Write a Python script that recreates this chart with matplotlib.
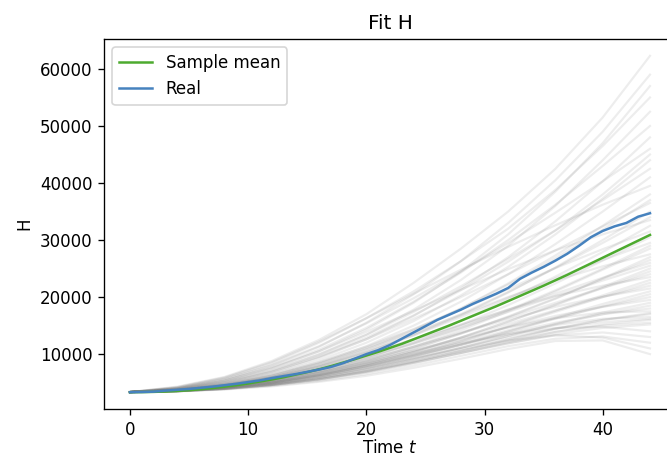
import numpy as np
import matplotlib
matplotlib.use("Agg")
import matplotlib.pyplot as plt

# Time axis for the observed / mean series
t_days = list(range(0, 45))

# Real series
real_vals = [3330, 3360, 3420, 3600, 3750, 3900, 4100, 4300, 4550, 4800,
             5100, 5400, 5800, 6150, 6500, 6900, 7300, 7750, 8400, 9200,
             10000, 10700, 11600, 12700, 13800, 14900, 16000, 16900, 17800, 18800,
             19700, 20600, 21600, 23200, 24300, 25300, 26400, 27600, 29000, 30500,
             31600, 32400, 33000, 34100, 34700]

# Sample mean series
mean_vals = [3330, 3340, 3380, 3450, 3550, 3680, 3850, 4050, 4300, 4550,
             4850, 5200, 5550, 5950, 6400, 6850, 7350, 7900, 8500, 9100,
             9750, 10400, 11100, 11800, 12600, 13400, 14200, 15000, 15850, 16700,
             17550, 18400, 19300, 20200, 21100, 22000, 22950, 23900, 24900, 25900,
             26900, 27900, 28900, 29900, 30900]

# Sample trajectories (thousands), sampled at these times
sample_t = [0, 4, 8, 12, 16, 20, 24, 28, 32, 36, 40, 44]
samples_k = [
    [3.35, 4.3, 6.0, 8.8, 12.5, 17.0, 22.5, 28.5, 35.0, 42.5, 51.5, 62.3],
    [3.35, 4.1, 5.6, 8.0, 11.3, 15.5, 20.5, 26.3, 33.0, 40.5, 49.0, 59.0],
    [3.35, 4.0, 5.3, 7.5, 10.5, 14.3, 19.0, 24.5, 31.0, 38.5, 47.0, 57.0],
    [3.35, 4.2, 5.8, 8.4, 12.0, 16.3, 21.0, 26.3, 32.0, 38.8, 46.5, 55.0],
    [3.35, 3.9, 5.1, 7.1, 9.9, 13.4, 17.8, 23.0, 29.0, 36.0, 44.0, 52.5],
    [3.35, 4.0, 5.4, 7.7, 10.8, 14.6, 19.2, 24.3, 30.0, 36.2, 43.0, 50.0],
    [3.35, 3.85, 4.9, 6.7, 9.3, 12.6, 16.7, 21.5, 27.0, 33.3, 40.3, 48.0],
    [3.35, 4.1, 5.6, 8.1, 11.4, 15.4, 19.8, 24.5, 29.5, 34.8, 40.3, 46.0],
    [3.35, 3.9, 5.05, 6.9, 9.6, 12.9, 16.8, 21.2, 26.2, 31.7, 38.0, 45.0],
    [3.35, 3.8, 4.8, 6.5, 8.9, 12.0, 15.8, 20.3, 25.3, 31.0, 37.3, 44.0],
    [3.35, 3.95, 5.2, 7.2, 10.0, 13.4, 17.4, 21.9, 26.7, 31.7, 37.0, 42.5],
    [3.35, 3.75, 4.65, 6.2, 8.5, 11.4, 15.0, 19.2, 24.0, 29.3, 35.0, 41.0],
    [3.35, 4.2, 5.9, 8.6, 12.2, 16.3, 20.6, 24.8, 28.8, 32.6, 36.2, 39.5],
    [3.35, 3.7, 4.6, 6.0, 8.1, 10.8, 14.1, 18.0, 22.4, 27.3, 32.5, 38.0],
    [3.35, 3.75, 4.7, 6.25, 8.4, 11.1, 14.3, 18.0, 22.2, 26.8, 31.8, 37.0],
    [3.35, 3.9, 5.0, 6.9, 9.5, 12.6, 16.2, 20.0, 24.0, 28.2, 32.4, 36.5],
    [3.35, 3.7, 4.5, 5.9, 7.8, 10.3, 13.3, 16.8, 20.8, 25.2, 30.0, 35.0],
    [3.35, 3.7, 4.55, 6.0, 8.0, 10.5, 13.5, 17.0, 20.9, 25.1, 29.5, 34.0],
    [3.35, 4.0, 5.4, 7.6, 10.5, 13.9, 17.6, 21.3, 24.9, 28.2, 31.0, 33.5],
    [3.35, 3.65, 4.4, 5.7, 7.5, 9.8, 12.6, 15.9, 19.6, 23.6, 27.9, 32.5],
    [3.35, 3.8, 4.8, 6.4, 8.6, 11.3, 14.4, 17.8, 21.4, 25.1, 28.4, 31.5],
    [3.35, 3.6, 4.3, 5.5, 7.2, 9.4, 12.0, 15.1, 18.6, 22.4, 26.4, 30.5],
    [3.35, 3.7, 4.5, 5.9, 7.9, 10.4, 13.3, 16.5, 19.9, 23.3, 26.5, 29.5],
    [3.35, 3.65, 4.35, 5.55, 7.2, 9.3, 11.8, 14.6, 17.7, 21.2, 25.0, 29.0],
    [3.35, 3.6, 4.25, 5.35, 6.9, 8.9, 11.3, 14.2, 17.5, 21.0, 24.8, 28.5],
    [3.35, 3.75, 4.7, 6.2, 8.3, 10.9, 13.8, 16.9, 20.0, 22.9, 25.4, 27.5],
    [3.35, 3.6, 4.25, 5.3, 6.8, 8.7, 11.0, 13.6, 16.5, 19.7, 23.3, 27.0],
    [3.35, 3.6, 4.2, 5.2, 6.7, 8.6, 10.9, 13.6, 16.6, 19.8, 23.2, 26.5],
    [3.35, 3.7, 4.5, 5.8, 7.6, 9.8, 12.3, 15.0, 17.8, 20.6, 23.4, 26.0],
    [3.35, 3.65, 4.4, 5.6, 7.3, 9.4, 11.9, 14.6, 17.4, 20.2, 22.9, 25.5],
    [3.35, 3.55, 4.1, 5.05, 6.4, 8.2, 10.4, 12.9, 15.7, 18.7, 21.8, 25.0],
    [3.35, 3.55, 4.1, 5.0, 6.4, 8.2, 10.4, 12.9, 15.7, 18.6, 21.6, 24.5],
    [3.35, 3.6, 4.3, 5.4, 7.0, 9.0, 11.3, 13.8, 16.4, 19.0, 21.6, 24.0],
    [3.35, 3.7, 4.5, 5.9, 7.8, 10.1, 12.6, 15.2, 17.8, 20.2, 22.0, 23.5],
    [3.35, 3.55, 4.1, 5.0, 6.3, 8.0, 10.0, 12.3, 14.9, 17.6, 20.3, 23.0],
    [3.35, 3.55, 4.05, 4.95, 6.2, 7.9, 9.9, 12.2, 14.8, 17.4, 20.0, 22.5],
    [3.35, 3.6, 4.2, 5.2, 6.7, 8.5, 10.6, 12.9, 15.3, 17.7, 20.0, 22.0],
    [3.35, 3.6, 4.3, 5.4, 7.0, 9.0, 11.3, 13.7, 16.1, 18.3, 20.1, 21.5],
    [3.35, 3.5, 4.0, 4.85, 6.1, 7.7, 9.6, 11.7, 14.0, 16.4, 18.8, 21.0],
    [3.35, 3.5, 4.0, 4.8, 6.0, 7.6, 9.5, 11.6, 13.9, 16.2, 18.4, 20.5],
    [3.35, 3.55, 4.1, 5.0, 6.35, 8.0, 9.9, 12.0, 14.2, 16.3, 18.3, 20.0],
    [3.35, 3.55, 4.15, 5.1, 6.5, 8.3, 10.3, 12.5, 14.7, 16.7, 18.3, 19.5],
    [3.35, 3.5, 3.95, 4.7, 5.85, 7.3, 9.1, 11.1, 13.2, 15.3, 17.3, 19.0],
    [3.35, 3.5, 3.95, 4.7, 5.8, 7.3, 9.1, 11.1, 13.2, 15.2, 17.0, 18.5],
    [3.35, 3.55, 4.1, 5.0, 6.3, 7.9, 9.7, 11.7, 13.7, 15.5, 17.0, 18.0],
    [3.35, 3.6, 4.25, 5.3, 6.8, 8.6, 10.6, 12.7, 14.7, 16.3, 17.3, 17.5],
    [3.35, 3.5, 3.9, 4.6, 5.65, 7.0, 8.7, 10.6, 12.5, 14.4, 16.0, 17.2],
    [3.35, 3.5, 3.9, 4.6, 5.6, 7.0, 8.7, 10.6, 12.6, 14.5, 16.0, 17.0],
    [3.35, 3.55, 4.1, 5.0, 6.3, 7.9, 9.7, 11.6, 13.5, 15.1, 16.2, 16.5],
    [3.35, 3.55, 4.05, 4.9, 6.1, 7.6, 9.3, 11.1, 12.9, 14.5, 15.6, 16.2],
    [3.35, 3.5, 3.9, 4.55, 5.5, 6.8, 8.4, 10.2, 12.1, 13.9, 15.2, 16.0],
    [3.35, 3.5, 3.95, 4.7, 5.8, 7.2, 8.8, 10.5, 12.3, 13.9, 15.0, 15.5],
    [3.35, 3.5, 3.9, 4.6, 5.6, 6.9, 8.5, 10.2, 11.9, 13.5, 14.6, 15.2],
    [3.35, 3.6, 4.2, 5.2, 6.6, 8.3, 10.1, 11.9, 13.5, 14.6, 14.8, 14.0],
    [3.35, 3.5, 3.9, 4.6, 5.6, 6.9, 8.5, 10.2, 11.9, 13.3, 13.8, 13.0],
    [3.35, 3.5, 3.85, 4.45, 5.3, 6.5, 8.0, 9.7, 11.4, 12.7, 13.1, 12.0],
    [3.35, 3.55, 4.0, 4.8, 6.0, 7.5, 9.2, 10.9, 12.4, 13.3, 12.9, 11.0],
    [3.35, 3.45, 3.8, 4.35, 5.15, 6.2, 7.6, 9.2, 10.9, 12.3, 12.4, 10.0],
]

W, H, DPI = 667, 458, 120
fig = plt.figure(figsize=(W / DPI, H / DPI), dpi=DPI)
ax = fig.add_axes([104 / W, 49 / H, (676 - 104) / W, 370 / H])

for row in samples_k:
    ax.plot(sample_t, np.array(row) * 1000, color="gray", alpha=0.14, lw=1.3)

ax.plot(t_days, mean_vals, color="#4daa2f", lw=1.5, label="Sample mean")
ax.plot(t_days, real_vals, color="#4682be", lw=1.5, label="Real")

ax.set_title("Fit H")
ax.set_xlabel("Time $t$", labelpad=0)
ax.set_ylabel("H")
ax.legend(loc="upper left")

fig.savefig("out.png", dpi=DPI)
